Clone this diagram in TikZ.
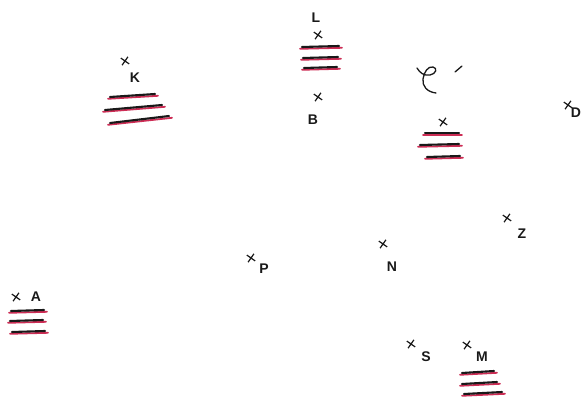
\documentclass[tikz,border=0pt]{standalone}
\usepackage{fontspec}
\setmainfont{Liberation Sans}
\usetikzlibrary{shapes.misc}
\definecolor{redpen}{RGB}{205,45,85}
\definecolor{pencil}{RGB}{25,25,25}
\tikzset{
  x=1pt, y=-1pt,
  mark cross/.style={cross out, draw=pencil, line width=1.2pt, minimum size=6pt, inner sep=0pt, rotate=#1},
  mark cross/.default=10,
  lbl/.style={font=\fontsize{14}{16}\selectfont\bfseries, text=pencil, inner sep=0pt},
  redstroke/.style={draw=redpen, line width=1.8pt, line cap=round},
  blackstroke/.style={draw=pencil, line width=2.1pt, line cap=round},
}
\begin{document}
\begin{tikzpicture}
\useasboundingbox (0,0) rectangle (584,399);
% marked points and their letters
\node[mark cross] (xK) at (125,61) {};   \node[lbl] (K) at (135,78) {K};
\node[mark cross] (xL) at (318,35) {};   \node[lbl] (L) at (316,18) {L};
\node[mark cross] (xB) at (318,97) {};   \node[lbl] (B) at (313,120) {B};
\node[mark cross] (xE) at (443,122) {};
\node[mark cross] (xD) at (568,105) {};  \node[lbl] (D) at (576,113) {D};
\node[mark cross] (xZ) at (507,218) {};  \node[lbl] (Z) at (522,234) {Z};
\node[mark cross] (xN) at (383,244) {};  \node[lbl] (N) at (392,267) {N};
\node[mark cross] (xP) at (251,258) {};  \node[lbl] (P) at (264,269) {P};
\node[mark cross] (xA) at (16,297) {};   \node[lbl] (A) at (36,297) {A};
\node[mark cross] (xS) at (411,344) {};  \node[lbl] (S) at (426,357) {S};
\node[mark cross] (xM) at (467,345) {};  \node[lbl] (M) at (482,357) {M};
% handwritten script letter with its prime
\draw[pencil, line width=1.3pt, line cap=round, line join=round]
  (417,68) .. controls (420,73) and (424,76) .. (430,75)
  .. controls (436,74) and (438,68) .. (433,67)
  .. controls (428,66) and (424,72) .. (423,79)
  .. controls (422,86) and (427,92) .. (436,93);
\draw[pencil, line width=1.3pt, line cap=round] (455,72) -- (462,66);
% hatched strokes: red underlay with black stroke on top
\foreach \a/\b/\c/\d in {
  108/97/158/94, 103/110/165/105, 108/123/172/116,
  300/47/342/46, 301/58/341/57, 302/68/340/67,
  423/133/462/133, 418/145/462/144, 425/157/463/156,
  9/311/47/310, 8/321/46/320, 10/332/48/331,
  460/373/497/371, 460/384/500/382, 462/394/505/392}{
  \draw[redstroke] (\a,\b+1.8) -- (\c,\d+1.8);
  \draw[blackstroke] (\a+2,\b) -- (\c-3,\d);
}
\end{tikzpicture}
\end{document}
